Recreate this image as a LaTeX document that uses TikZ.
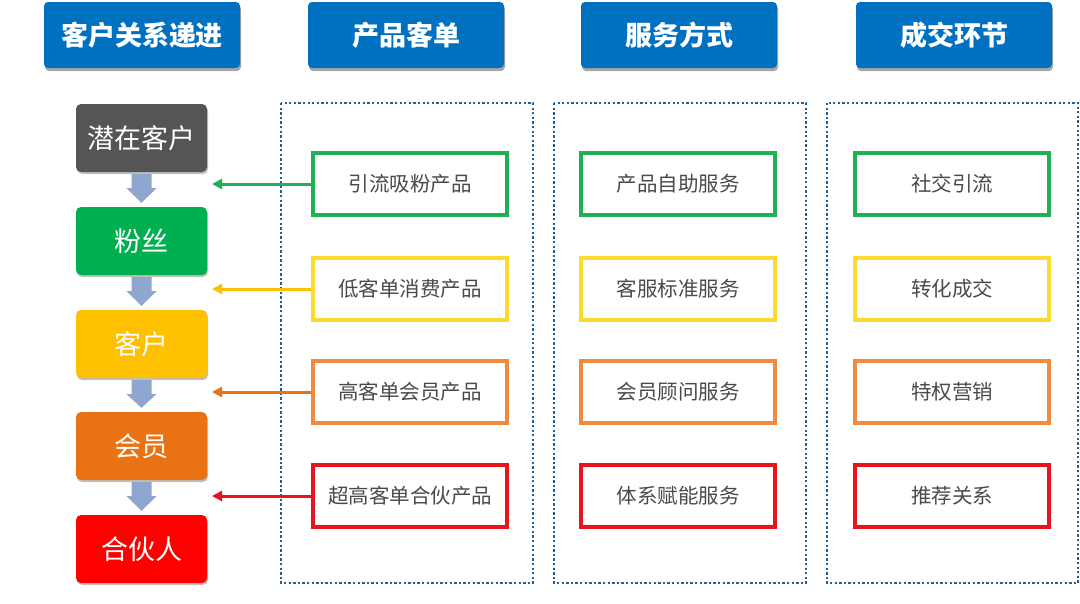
\documentclass[tikz,border=0pt]{standalone}
\usepackage{fontspec}
\setmainfont{Noto Sans CJK SC}
\usetikzlibrary{shadows,arrows.meta,calc}
\definecolor{hdrblue}{HTML}{0070C0}
\definecolor{frameblue}{HTML}{1F5F9F}
\definecolor{cgray}{HTML}{555555}
\definecolor{cgreen}{HTML}{00B050}
\definecolor{cyellow}{HTML}{FFC000}
\definecolor{corange}{HTML}{E97314}
\definecolor{cred}{HTML}{FF0000}
\definecolor{bgreen}{HTML}{1DB154}
\definecolor{byellow}{HTML}{FFDA2E}
\definecolor{borange}{HTML}{F08A3C}
\definecolor{bred}{HTML}{E8141C}
\definecolor{aarrow}{HTML}{FFC000}
\definecolor{arrowgray}{HTML}{8FA6CE}
\definecolor{txt}{HTML}{4A4A4A}
\begin{document}
\begin{tikzpicture}[x=1pt,y=-1pt,
  hdr/.style={draw=none,fill=hdrblue,rounded corners=4pt,minimum width=196pt,minimum height=66pt,
    text=white,font=\fontsize{27}{32}\selectfont\bfseries,
    drop shadow={shadow xshift=1pt,shadow yshift=-3pt,opacity=0.35,fill=black}},
  lvl/.style={fill=#1,rounded corners=5pt,minimum width=131pt,minimum height=68pt,
    text=white,font=\fontsize{27}{32}\selectfont,
    drop shadow={shadow xshift=1pt,shadow yshift=-2pt,opacity=0.25,fill=black}},
  ibox/.style={draw=#1,line width=3.5pt,fill=white,minimum width=194pt,minimum height=62pt,
    text=txt,font=\fontsize{20.5}{24}\selectfont},
  frm/.style={draw=frameblue,line width=2.8pt,dash pattern=on 2.3pt off 2.3pt},
  darr/.style={fill=arrowgray},
  conn/.style={draw=#1,line width=3pt,-{Triangle[length=10pt,width=10pt]}}
]
\useasboundingbox (0,0) rectangle (1080,603);
\fill[white] (0,0) rectangle (1080,603);
% headers
\node[hdr] (h1) at (142,35) {客户关系递进};
\node[hdr] (h2) at (406,35) {产品客单};
\node[hdr] (h3) at (679,35) {服务方式};
\node[hdr] (h4) at (954,35) {成交环节};
% frames
\draw[frm] (281,103) rectangle (533,583);
\draw[frm] (554,103) rectangle (806,583);
\draw[frm] (827,103) rectangle (1078,583);
% level boxes
\node[lvl=cgray] (l1) at (141.5,138) {潜在客户};
\node[lvl=cgreen] (l2) at (141.5,241) {粉丝};
\node[lvl=cyellow] (l3) at (141.5,344) {客户};
\node[lvl=corange] (l4) at (141.5,446) {会员};
\node[lvl=cred] (l5) at (141.5,549) {合伙人};
% down arrows between level boxes
\foreach \a/\b in {l1/l2,l2/l3,l3/l4,l4/l5}{
  \fill[darr] ($(\a.south)+(-10,2)$) -- ($(\a.south)+(10,2)$) -- ($(\a.south)+(10,16)$)
    -- ($(\a.south)+(15,16)$) -- ($(\b.north)+(0,-4)$) -- ($(\a.south)+(-15,16)$)
    -- ($(\a.south)+(-10,16)$) -- cycle;
}
% column 2
\node[ibox=bgreen] (p1) at (410,184) {引流吸粉产品};
\node[ibox=byellow] (p2) at (410,289) {低客单消费产品};
\node[ibox=borange] (p3) at (410,392) {高客单会员产品};
\node[ibox=bred] (p4) at (410,496) {超高客单合伙产品};
% column 3
\node[ibox=bgreen] (s1) at (678,184) {产品自助服务};
\node[ibox=byellow] (s2) at (678,289) {客服标准服务};
\node[ibox=borange] (s3) at (678,392) {会员顾问服务};
\node[ibox=bred] (s4) at (678,496) {体系赋能服务};
% column 4
\node[ibox=bgreen] (c1) at (952,184) {社交引流};
\node[ibox=byellow] (c2) at (952,289) {转化成交};
\node[ibox=borange] (c3) at (952,392) {特权营销};
\node[ibox=bred] (c4) at (952,496) {推荐关系};
% connectors
\coordinate (e1) at (212,184);
\coordinate (e2) at (212,289);
\coordinate (e3) at (212,392);
\coordinate (e4) at (212,496);
\draw[conn=bgreen] (p1.west) -- (e1);
\draw[conn=aarrow] (p2.west) -- (e2);
\draw[conn=corange] (p3.west) -- (e3);
\draw[conn=bred] (p4.west) -- (e4);
\end{tikzpicture}
\end{document}
